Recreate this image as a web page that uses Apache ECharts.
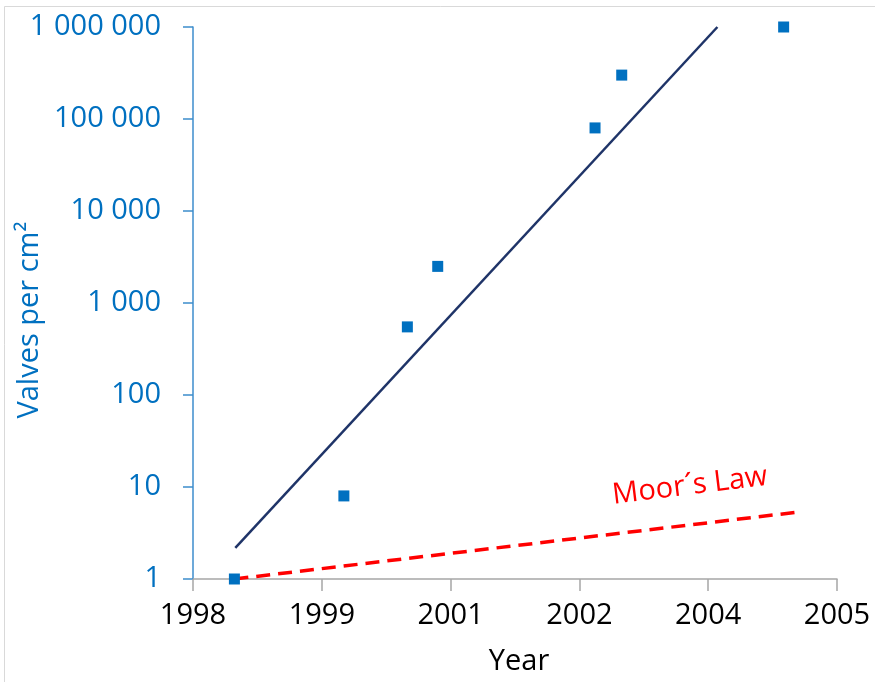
<!DOCTYPE html>
<html>
<head>
<meta charset="utf-8">
<script src="https://cdn.jsdelivr.net/npm/echarts@6/dist/echarts.min.js"></script>
<style>html,body{margin:0;padding:0;background:#fff}#c{width:875px;height:682px}</style>
</head>
<body>
<div id="c"></div>
<script>
// Measured points (year, valves per cm²)
var pointYears = [1998.45, 1999.64, 2000.33, 2000.66, 2002.37, 2002.66, 2004.42];
var pointValues = [1, 8, 550, 2500, 80000, 300000, 1000000];
// Exponential trend line end points
var trendYears = [1998.46, 2003.70];
var trendValues = [2.18, 1000000];
// Moore's law line end points
var mooreYears = [1998.45, 2004.62];
var mooreValues = [1, 5.4];
// X tick positions (Excel-style 1.4-year steps, shown rounded)
var xTicks = [1998, 1999.4, 2000.8, 2002.2, 2003.6, 2005];
var yTicks = [1, 10, 100, 1000, 10000, 100000, 1000000];

function zip(a, b) { return a.map(function (v, i) { return [v, b[i]]; }); }
function fmtSpace(v) { return String(Math.round(v)).replace(/\B(?=(\d{3})+(?!\d))/g, ' '); }

var FONT = 'Open Sans';
var FS = 29;
var chart = echarts.init(document.getElementById('c'));
chart.setOption({
  animation: false,
  backgroundColor: '#fff',
  grid: { left: 193, right: 38, top: 27, bottom: 103, containLabel: false, outerBoundsMode: 'none' },
  graphic: [
    { type: 'polyline', shape: { points: [[4.5, 700], [4.5, 6.5], [900, 6.5]] },
      style: { stroke: '#d9d9d9', lineWidth: 1, fill: null } },
    { type: 'text', x: 690, y: 486, rotation: 7 * Math.PI / 180,
      style: { text: 'Moor´s Law', fill: '#ff0000', font: FS + 'px "' + FONT + '"',
               align: 'center', verticalAlign: 'middle' } },
    { type: 'text', x: 30, y: 320, rotation: Math.PI / 2,
      style: { text: 'Valves per cm²', fill: '#0070c0', font: FS + 'px "' + FONT + '"',
               align: 'center', verticalAlign: 'middle' } },
    { type: 'text', x: 519, y: 662,
      style: { text: 'Year', fill: '#000', font: FS + 'px "' + FONT + '"',
               align: 'center', verticalAlign: 'middle' } }
  ],
  xAxis: {
    type: 'value', min: 1998, max: 2005,
    splitLine: { show: false },
    axisLine: { show: true, lineStyle: { color: '#a6a6a6', width: 1.5 } },
    axisTick: { show: true, length: 12, customValues: xTicks, lineStyle: { color: '#a6a6a6', width: 1.5 } },
    axisLabel: { customValues: xTicks, margin: 22, color: '#000', fontSize: FS, fontFamily: FONT,
                 formatter: function (v) { return String(Math.round(v)); } }
  },
  yAxis: {
    type: 'log', logBase: 10, min: 1, max: 1000000,
    splitLine: { show: false },
    axisLine: { show: true, lineStyle: { color: '#3c8dcc', width: 1.5 } },
    axisTick: { show: true, length: 10, customValues: yTicks, lineStyle: { color: '#3c8dcc', width: 1.5 } },
    axisLabel: { customValues: yTicks, margin: 32, color: '#0070c0', fontSize: FS, fontFamily: FONT,
                 formatter: fmtSpace }
  },
  series: [
    { type: 'line', data: zip(trendYears, trendValues), symbol: 'none',
      lineStyle: { color: '#1f3468', width: 2.5 }, z: 2 },
    { type: 'line', data: zip(mooreYears, mooreValues), symbol: 'none',
      lineStyle: { color: '#ff0000', width: 3.5, type: [14, 8] }, z: 2 },
    { type: 'scatter', data: zip(pointYears, pointValues), symbol: 'rect', symbolSize: 11,
      itemStyle: { color: '#0070c0', opacity: 1 }, z: 3 }
  ]
});
</script>
</body>
</html>
